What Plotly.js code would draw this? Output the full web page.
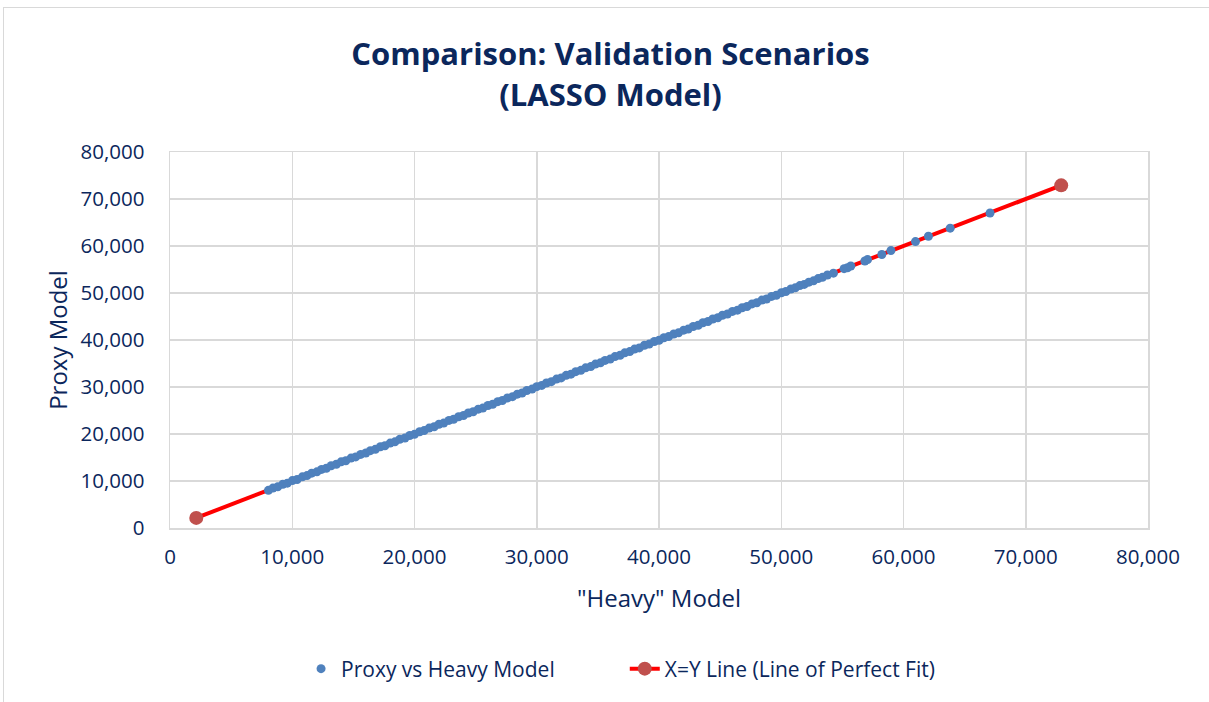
<!DOCTYPE html>
<html>
<head>
<meta charset="utf-8">
<script src="https://cdn.plot.ly/plotly-3.0.1.min.js"></script>
<style>
  html, body { margin: 0; padding: 0; background: #ffffff; }
  #frame { position: absolute; left: 3px; top: 7px; width: 1206px; height: 695px; border-left: 1px solid #d9d9d9; border-top: 1px solid #d9d9d9; pointer-events: none; }
  #chart { position: absolute; left: 0; top: 0; width: 1209px; height: 702px; }
</style>
</head>
<body>
<div id="chart"></div>
<div id="frame"></div>
<script>
// Proxy vs Heavy model validation scenarios
const heavyModel = [
  8050, 8420, 8810, 9230, 9600, 10010, 10400, 10830, 11210, 11590,
  12020, 12400, 12790, 13180, 13610, 14000, 14380, 14810, 15190, 15600,
  16020, 16390, 16800, 17210, 17580, 18010, 18400, 18790, 19220, 19610,
  20000, 20420, 20790, 21200, 21610, 22000, 22390, 22820, 23200, 23610,
  24010, 24400, 24800, 25220, 25590, 26010, 26400, 26810, 27190, 27600,
  28020, 28410, 28800, 29190, 29620, 30000, 30410, 30790, 31200, 31620,
  32000, 32410, 32800, 33190, 33610, 34000, 34420, 34800, 35210, 35590,
  36010, 36400, 36820, 37200, 37610, 38000, 38390, 38810, 39200, 39620,
  40010, 40400, 40790, 41210, 41600, 42020, 42390, 42800, 43210, 43590,
  44010, 44400, 44810, 45190, 45600, 46010, 46420, 46800, 47200, 47610,
  48000, 48420, 48800, 49210, 49600, 50010, 50380, 50790, 51150, 51520,
  51880, 52260, 52640, 53020, 53370, 53780, 54270, 55140, 55420, 55690,
  56840, 57060, 58230, 58970, 60980, 62040, 63820, 67080
];
const proxyModel = [
  8010, 8490, 8760, 9300, 9540, 10090, 10330, 10880, 11150, 11670,
  11950, 12460, 12720, 13250, 13560, 14070, 14310, 14870, 15120, 15660,
  15960, 16450, 16730, 17280, 17510, 18070, 18330, 18860, 19150, 19680,
  19930, 20490, 20720, 21260, 21540, 22080, 22320, 22890, 23130, 23680,
  23940, 24470, 24730, 25290, 25520, 26070, 26330, 26880, 27120, 27670,
  27950, 28470, 28730, 29260, 29550, 30070, 30340, 30860, 31130, 31690,
  31930, 32480, 32730, 33260, 33540, 34070, 34350, 34870, 35140, 35660,
  35940, 36470, 36750, 37270, 37540, 38070, 38320, 38880, 39130, 39690,
  39940, 40470, 40720, 41280, 41530, 42090, 42320, 42870, 43140, 43660,
  43940, 44470, 44740, 45260, 45530, 46080, 46350, 46870, 47130, 47680,
  47930, 48490, 48730, 49280, 49530, 50060, 50330, 50850, 51100, 51570,
  51830, 52310, 52590, 53060, 53330, 53820, 54220, 55180, 55370, 55740,
  56800, 57110, 58190, 59020, 60940, 62080, 63790, 67030
];
// X=Y reference line endpoints
const perfectFitX = [2150, 72900];
const perfectFitY = [2150, 72900];

const seriesNames = ["Proxy vs Heavy Model", "X=Y Line (Line of Perfect Fit)"];
const chartTitle = "Comparison: Validation Scenarios<br>(LASSO Model)";
const xTitle = "\"Heavy\" Model";
const yTitle = "Proxy Model";

const navy = "#0b275c";
const fontFam = "'Open Sans', 'Noto Sans', sans-serif";

const traces = [
  {
    x: perfectFitX, y: perfectFitY,
    name: seriesNames[1],
    type: "scatter", mode: "lines+markers",
    line: { color: "#ff0000", width: 4 },
    marker: { color: "#c0504d", size: 14 },
    showlegend: true,
    legend: "legend2"
  },
  {
    x: heavyModel, y: proxyModel,
    name: seriesNames[0],
    type: "scatter", mode: "markers",
    marker: { color: "#4f81bd", size: 9 },
    showlegend: true,
    legend: "legend"
  }
];

const axisCommon = {
  range: [0, 80000],
  dtick: 10000,
  tickformat: ",d",
  showgrid: true,
  gridcolor: "#d9d9d9",
  gridwidth: 1.5,
  zeroline: false,
  showline: true,
  linecolor: "#d9d9d9",
  linewidth: 1.5,
  mirror: true,
  ticks: "outside",
  tickcolor: "rgba(0,0,0,0)",
  tickfont: { family: fontFam, size: 20.5, color: navy },
  fixedrange: true
};

const layout = {
  width: 1209, height: 702,
  paper_bgcolor: "#ffffff", plot_bgcolor: "#ffffff",
  margin: { l: 170, r: 61, t: 152, b: 174 },
  title: {
    text: chartTitle,
    font: { family: fontFam, size: 31, color: navy, weight: "bold" },
    x: 0.505, xanchor: "center",
    y: 0.907, yanchor: "top"
  },
  xaxis: Object.assign({}, axisCommon, {
    ticklen: 10,
    title: { text: xTitle, font: { family: fontFam, size: 24, color: navy }, standoff: 21 }
  }),
  yaxis: Object.assign({}, axisCommon, {
    ticklen: 20,
    title: { text: yTitle, font: { family: fontFam, size: 24, color: navy }, standoff: 6 }
  }),
  showlegend: true,
  legend: {
    orientation: "h",
    x: 0.134, xanchor: "left",
    y: -0.375, yanchor: "middle",
    font: { family: fontFam, size: 21, color: navy },
    bgcolor: "rgba(0,0,0,0)"
  },
  legend2: {
    orientation: "h",
    x: 0.465, xanchor: "left",
    y: -0.375, yanchor: "middle",
    font: { family: fontFam, size: 21, color: navy },
    bgcolor: "rgba(0,0,0,0)"
  }
};

Plotly.newPlot("chart", traces, layout, { displayModeBar: false, staticPlot: true });
</script>
</body>
</html>
